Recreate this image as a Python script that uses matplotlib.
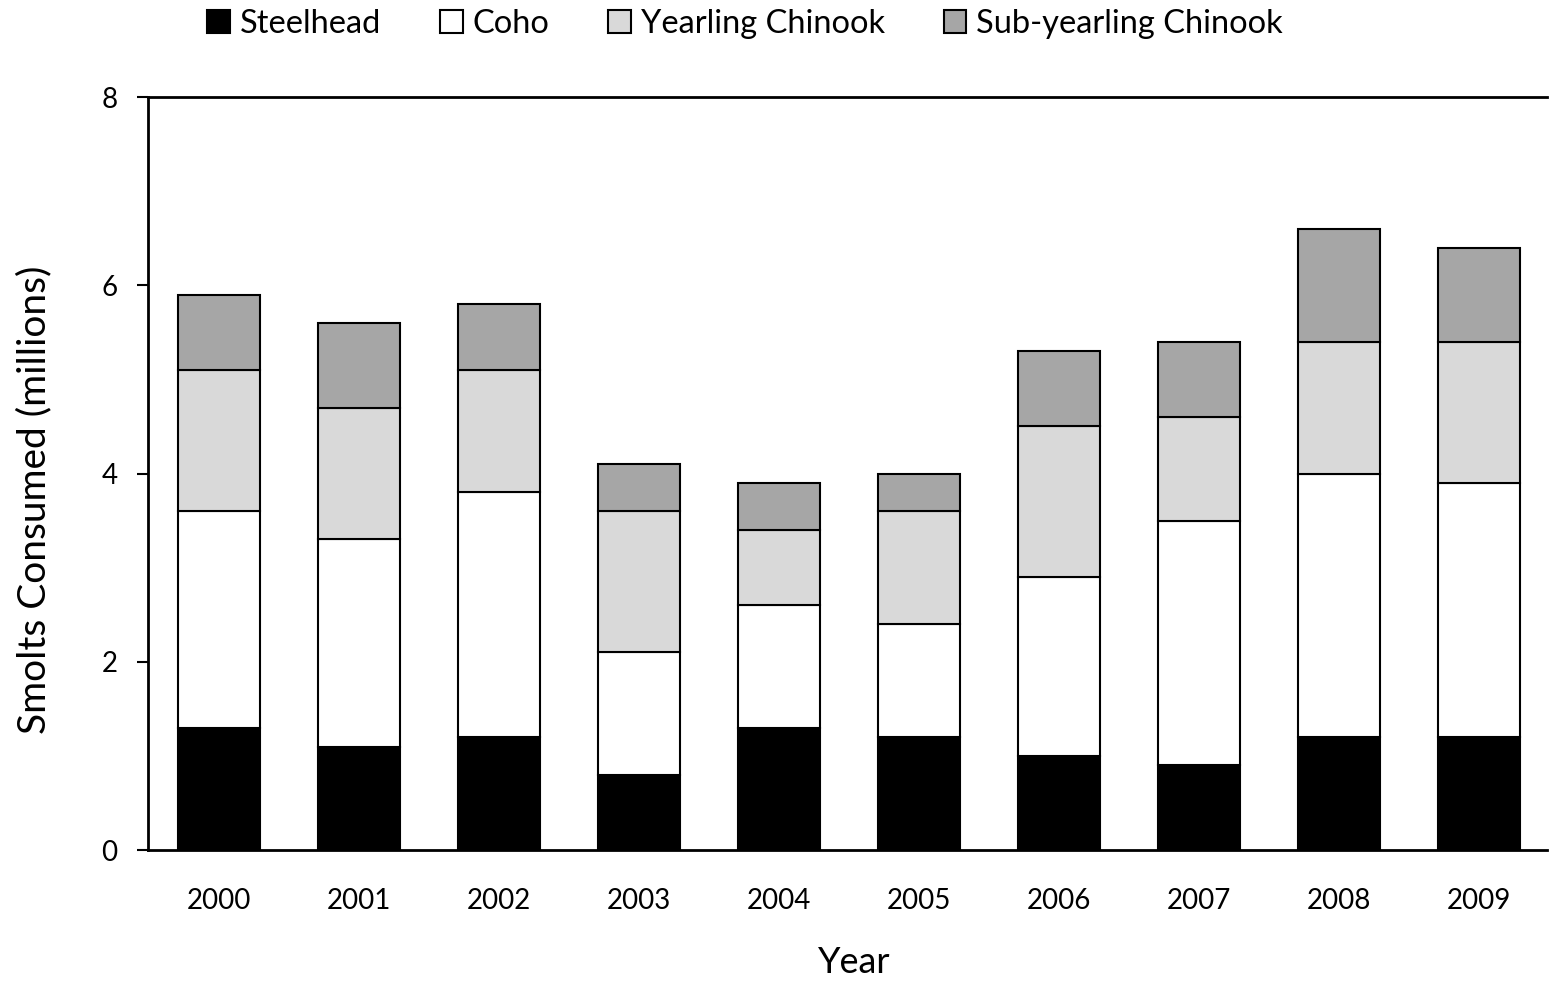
import matplotlib.pyplot as plt
import numpy as np

years = ["2000", "2001", "2002", "2003", "2004", "2005", "2006", "2007", "2008", "2009"]
steelhead = [1.3, 1.1, 1.2, 0.8, 1.3, 1.2, 1.0, 0.9, 1.2, 1.2]
coho = [2.3, 2.2, 2.6, 1.3, 1.3, 1.2, 1.9, 2.6, 2.8, 2.7]
yearling_chinook = [1.5, 1.4, 1.3, 1.5, 0.8, 1.2, 1.6, 1.1, 1.4, 1.5]
subyearling_chinook = [0.8, 0.9, 0.7, 0.5, 0.5, 0.4, 0.8, 0.8, 1.2, 1.0]

series = [
    ("Steelhead", steelhead, "#000000"),
    ("Coho", coho, "#FFFFFF"),
    ("Yearling Chinook", yearling_chinook, "#D9D9D9"),
    ("Sub-yearling Chinook", subyearling_chinook, "#A6A6A6"),
]

plt.rcParams["font.family"] = ["Lato", "DejaVu Sans"]

fig = plt.figure(figsize=(15.49, 9.85), dpi=100)
ax = fig.add_axes([0.0955, 0.137, 0.9035, 0.7645])

x = np.arange(len(years))
bottom = np.zeros(len(years))
handles = []
for name, values, color in series:
    bars = ax.bar(x, values, width=0.585, bottom=bottom, color=color,
                  edgecolor="black", linewidth=1.5, label=name)
    handles.append(bars)
    bottom += np.array(values)

ax.set_xlim(-0.507, 9.487)
ax.set_ylim(0, 8)
ax.set_yticks([0, 2, 4, 6, 8])
ax.set_xticks(x)
ax.set_xticklabels(years)
ax.tick_params(axis="x", length=0, pad=27, labelsize=20)
ax.tick_params(axis="y", length=8, width=1.5, direction="out", pad=14, labelsize=20)

ax.spines["right"].set_visible(False)
for side in ["left", "top", "bottom"]:
    ax.spines[side].set_linewidth(2)

ax.set_xlabel("Year", fontsize=26)
ax.set_ylabel("Smolts Consumed (millions)", fontsize=28)
ax.xaxis.set_label_coords(0.505, -0.128)
ax.yaxis.set_label_coords(-0.068, 0.465)

fig.legend(handles=handles, loc="center", bbox_to_anchor=(0.481, 0.976), ncol=4,
           frameon=False, fontsize=23.5, handlelength=0.7, handleheight=0.7,
           handletextpad=0.3, columnspacing=1.8)

fig.savefig("out.png", dpi=100)
